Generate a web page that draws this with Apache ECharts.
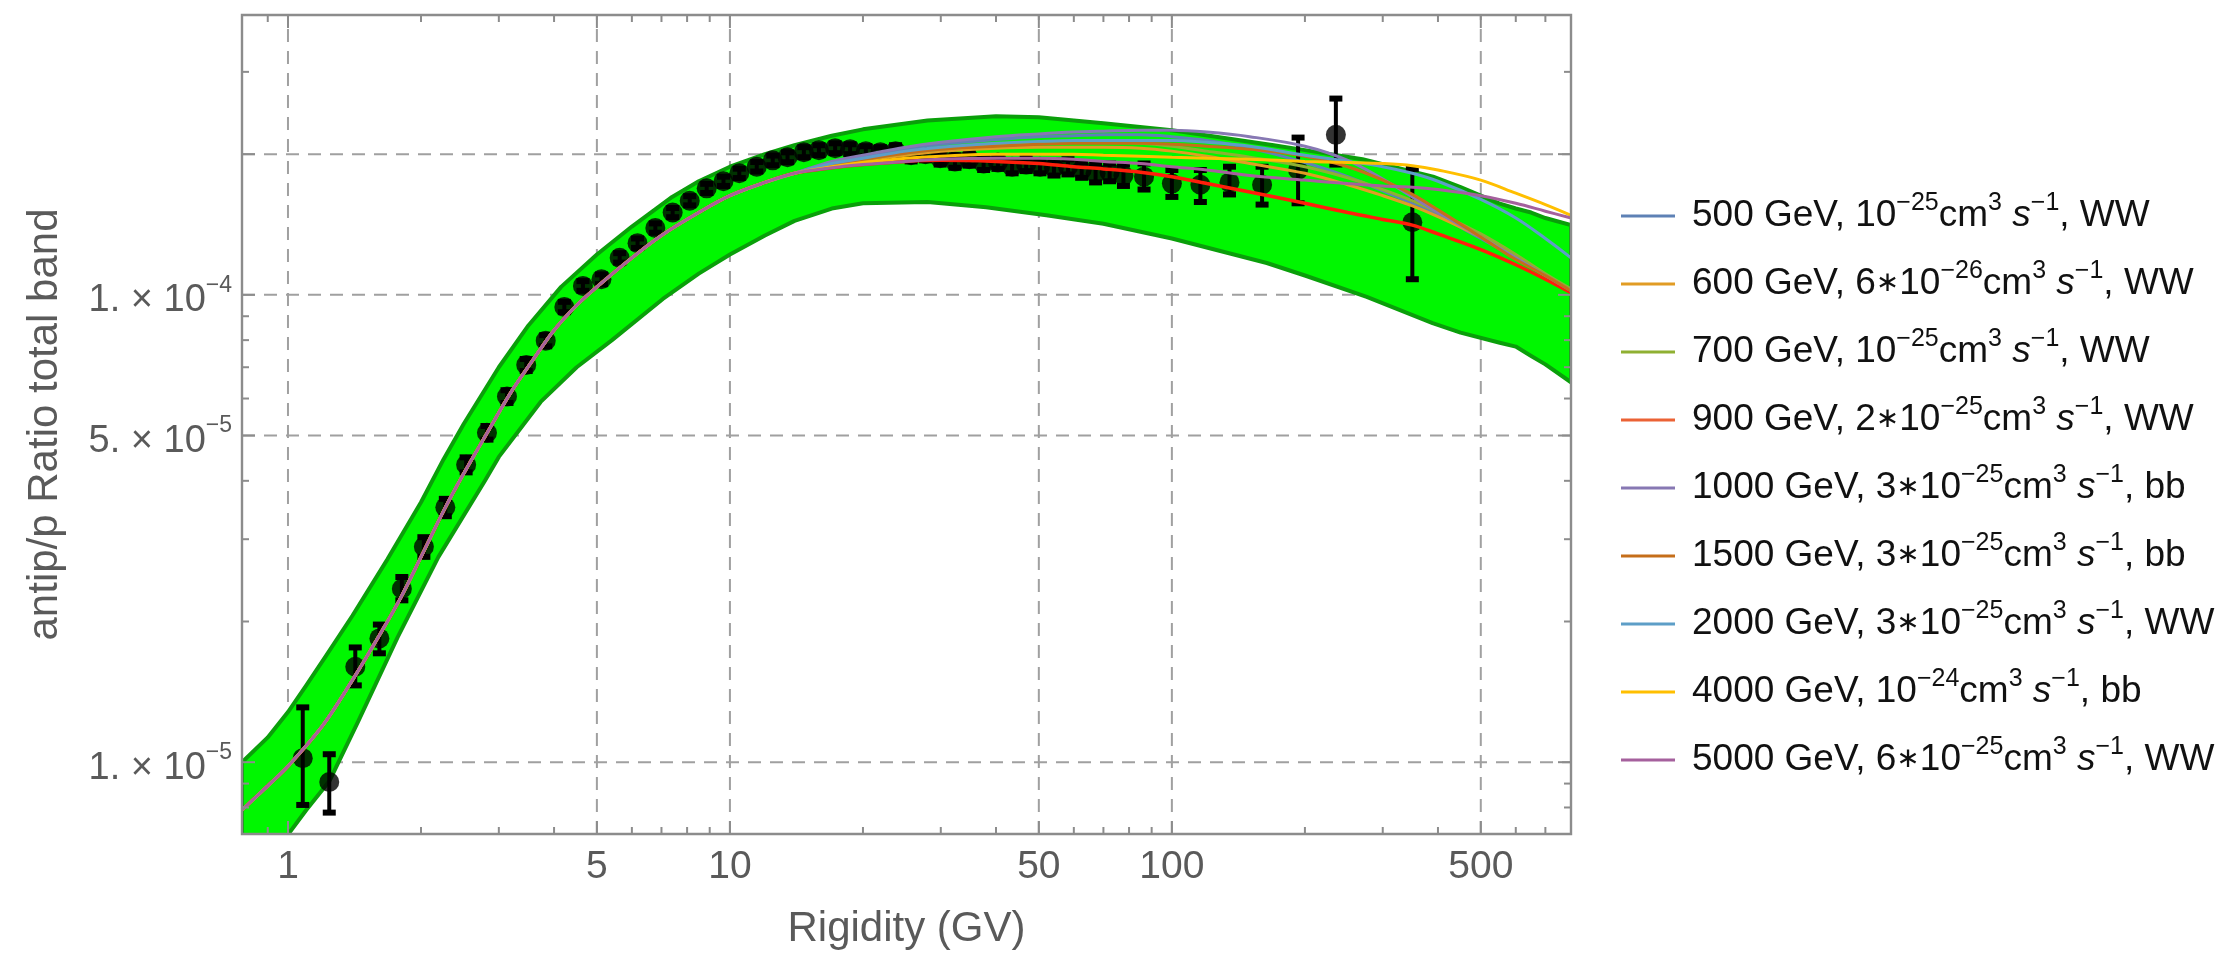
<!DOCTYPE html>
<html><head><meta charset="utf-8">
<script src="https://cdn.jsdelivr.net/npm/echarts@6/dist/echarts.min.js"></script>
<style>html,body{margin:0;padding:0;background:#fff}#c{width:2223px;height:955px}</style>
</head><body><div id="c"></div>
<script>
// ---------- axis ranges & ticks ----------
const xMin = 0.787, xMax = 800;
const yMin = 7.02e-6, yMax = 3.97e-4;
const xMajorTicks = [1, 5, 10, 50, 100, 500];
const xTickLabels = ['1', '5', '10', '50', '100', '500'];
const xMinorTicks = [0.9, 2, 3, 4, 6, 7, 8, 9, 20, 30, 40, 60, 70, 80, 90, 200, 300, 400, 600, 700];
const yMajorTicks = [1e-5, 5e-5, 1e-4, 2e-4];
const yLabelTicks = [1e-5, 5e-5, 1e-4];
const yTickLabels = ['{m|1. × 10}{s|−5}', '{m|5. × 10}{s|−5}', '{m|1. × 10}{s|−4}'];
const yMinorTicks = [8e-6, 9e-6, 2e-5, 3e-5, 4e-5, 6e-5, 7e-5, 8e-5, 9e-5, 3e-4];

// ---------- total uncertainty band ----------
const bandUpperX = [0.787, 0.9, 1.0, 1.1, 1.22, 1.4, 1.68, 2.0, 2.25, 2.5, 3.0, 3.5, 4.15, 5.0, 6.0, 7.4, 8.5, 10, 12, 14, 17, 20, 28, 40, 50, 70, 100, 170, 200, 270, 390, 450, 550, 600, 650, 700, 800];
const bandUpperY = [1.0e-5, 1.13e-5, 1.28e-5, 1.46e-5, 1.69e-5, 2.06e-5, 2.72e-5, 3.6e-5, 4.45e-5, 5.3e-5, 7.0e-5, 8.6e-5, 1.04e-4, 1.22e-4, 1.4e-4, 1.62e-4, 1.75e-4, 1.88e-4, 2.0e-4, 2.09e-4, 2.19e-4, 2.26e-4, 2.36e-4, 2.41e-4, 2.4e-4, 2.33e-4, 2.25e-4, 2.09e-4, 2.04e-4, 1.95e-4, 1.79e-4, 1.70e-4, 1.57e-4, 1.53e-4, 1.5e-4, 1.46e-4, 1.41e-4];
const bandLowerX = [0.787, 0.9, 1.0, 1.1, 1.24, 1.44, 1.77, 2.19, 2.79, 3.0, 3.73, 4.5, 5.41, 7.05, 8.5, 10, 12, 14, 17, 20, 28, 38, 52, 70, 100, 164, 200, 276, 389, 450, 552, 600, 650, 700, 800];
const bandLowerY = [5.5e-6, 6.25e-6, 7.0e-6, 7.9e-6, 9.1e-6, 1.22e-5, 1.85e-5, 2.75e-5, 4.0e-5, 4.5e-5, 5.9e-5, 7.0e-5, 8.0e-5, 9.8e-5, 1.11e-4, 1.22e-4, 1.34e-4, 1.44e-4, 1.53e-4, 1.57e-4, 1.58e-4, 1.54e-4, 1.48e-4, 1.42e-4, 1.32e-4, 1.17e-4, 1.1e-4, 9.9e-5, 8.7e-5, 8.3e-5, 7.9e-5, 7.75e-5, 7.4e-5, 7.1e-5, 6.5e-5];

// ---------- data points (antip/p measurements) ----------
const ptX = [1.08, 1.24, 1.42, 1.61, 1.81, 2.03, 2.27, 2.53, 2.82, 3.13, 3.46, 3.83, 4.22, 4.65, 5.12, 5.63, 6.18, 6.78, 7.42, 8.11, 8.86, 9.67, 10.5, 11.5, 12.5, 13.5, 14.7, 15.9, 17.3, 18.7, 20.3, 21.9, 23.7, 25.7, 27.7, 29.9, 32.3, 34.8, 37.5, 40.4, 43.5, 46.8, 50.3, 54.1, 58.2, 62.5, 67.2, 72.3, 77.7, 86.5, 100, 116, 135, 160, 193, 235, 350];
const ptY = [1.02e-5, 9.07e-6, 1.60e-5, 1.84e-5, 2.35e-5, 2.89e-5, 3.51e-5, 4.33e-5, 5.07e-5, 6.06e-5, 7.08e-5, 7.98e-5, 9.42e-5, 1.045e-4, 1.08e-4, 1.20e-4, 1.29e-4, 1.39e-4, 1.50e-4, 1.59e-4, 1.69e-4, 1.75e-4, 1.82e-4, 1.88e-4, 1.94e-4, 1.97e-4, 2.02e-4, 2.04e-4, 2.06e-4, 2.05e-4, 2.03e-4, 2.02e-4, 2.03e-4, 1.99e-4, 2.00e-4, 1.96e-4, 1.93e-4, 1.95e-4, 1.91e-4, 1.92e-4, 1.88e-4, 1.90e-4, 1.88e-4, 1.87e-4, 1.88e-4, 1.85e-4, 1.82e-4, 1.83e-4, 1.80e-4, 1.79e-4, 1.73e-4, 1.72e-4, 1.74e-4, 1.72e-4, 1.85e-4, 2.20e-4, 1.43e-4];
const ptLo = [8.1e-6, 7.8e-6, 1.46e-5, 1.71e-5, 2.22e-5, 2.75e-5, 3.36e-5, 4.17e-5, 4.90e-5, 5.87e-5, 6.87e-5, 7.76e-5, 9.18e-5, 1.02e-4, 1.054e-4, 1.172e-4, 1.26e-4, 1.358e-4, 1.466e-4, 1.554e-4, 1.652e-4, 1.71e-4, 1.778e-4, 1.836e-4, 1.894e-4, 1.922e-4, 1.97e-4, 1.99e-4, 2.01e-4, 2.00e-4, 1.98e-4, 1.97e-4, 1.97e-4, 1.93e-4, 1.94e-4, 1.90e-4, 1.87e-4, 1.89e-4, 1.85e-4, 1.86e-4, 1.82e-4, 1.84e-4, 1.82e-4, 1.80e-4, 1.81e-4, 1.78e-4, 1.74e-4, 1.75e-4, 1.71e-4, 1.68e-4, 1.62e-4, 1.58e-4, 1.64e-4, 1.56e-4, 1.57e-4, 1.90e-4, 1.08e-4];
const ptHi = [1.31e-5, 1.04e-5, 1.76e-5, 1.97e-5, 2.49e-5, 3.03e-5, 3.66e-5, 4.49e-5, 5.24e-5, 6.25e-5, 7.29e-5, 8.20e-5, 9.66e-5, 1.07e-4, 1.106e-4, 1.228e-4, 1.32e-4, 1.422e-4, 1.534e-4, 1.626e-4, 1.728e-4, 1.79e-4, 1.862e-4, 1.924e-4, 1.986e-4, 2.018e-4, 2.07e-4, 2.09e-4, 2.11e-4, 2.10e-4, 2.08e-4, 2.07e-4, 2.09e-4, 2.05e-4, 2.06e-4, 2.02e-4, 1.99e-4, 2.01e-4, 1.97e-4, 1.98e-4, 1.94e-4, 1.96e-4, 1.94e-4, 1.94e-4, 1.95e-4, 1.92e-4, 1.90e-4, 1.91e-4, 1.90e-4, 1.91e-4, 1.85e-4, 1.85e-4, 1.88e-4, 1.88e-4, 2.17e-4, 2.63e-4, 1.86e-4];

// ---------- model curves ----------
// common low-rigidity part (all models coincide there)
const modelLowX = [0.787, 0.9, 1.0, 1.2, 1.4, 1.6, 1.8, 2.0, 2.25, 2.5, 2.8, 3.2, 3.6, 4.0, 4.5, 5, 6, 7, 8.5, 10, 12, 14];
const modelLowY = [7.9e-6, 8.9e-6, 9.8e-6, 1.2e-5, 1.5e-5, 1.85e-5, 2.25e-5, 2.75e-5, 3.45e-5, 4.15e-5, 5.0e-5, 6.2e-5, 7.3e-5, 8.4e-5, 9.5e-5, 1.04e-4, 1.2e-4, 1.34e-4, 1.5e-4, 1.63e-4, 1.74e-4, 1.82e-4];
const modelHighX = [17, 20, 25, 30, 40, 50, 60, 70, 85, 100, 120, 150, 200, 250, 300, 350, 400, 500, 600, 700, 800];
const m500  = [1.92e-4, 1.98e-4, 2.05e-4, 2.10e-4, 2.15e-4, 2.18e-4, 2.19e-4, 2.20e-4, 2.20e-4, 2.18e-4, 2.14e-4, 2.06e-4, 1.92e-4, 1.79e-4, 1.67e-4, 1.57e-4, 1.48e-4, 1.32e-4, 1.20e-4, 1.10e-4, 1.02e-4];
const m600  = [1.89e-4, 1.94e-4, 1.99e-4, 2.03e-4, 2.06e-4, 2.07e-4, 2.07e-4, 2.07e-4, 2.06e-4, 2.03e-4, 1.98e-4, 1.91e-4, 1.82e-4, 1.72e-4, 1.63e-4, 1.55e-4, 1.47e-4, 1.33e-4, 1.21e-4, 1.10e-4, 1.02e-4];
const m700  = [1.90e-4, 1.95e-4, 2.01e-4, 2.05e-4, 2.09e-4, 2.11e-4, 2.12e-4, 2.12e-4, 2.11e-4, 2.08e-4, 2.03e-4, 1.97e-4, 1.88e-4, 1.78e-4, 1.68e-4, 1.59e-4, 1.50e-4, 1.35e-4, 1.22e-4, 1.11e-4, 1.03e-4];
const m900  = [1.87e-4, 1.90e-4, 1.93e-4, 1.94e-4, 1.93e-4, 1.91e-4, 1.88e-4, 1.86e-4, 1.83e-4, 1.79e-4, 1.73e-4, 1.66e-4, 1.57e-4, 1.50e-4, 1.45e-4, 1.41e-4, 1.35e-4, 1.25e-4, 1.16e-4, 1.08e-4, 1.01e-4];
const m1000 = [1.93e-4, 1.99e-4, 2.07e-4, 2.12e-4, 2.18e-4, 2.21e-4, 2.23e-4, 2.24e-4, 2.25e-4, 2.25e-4, 2.23e-4, 2.18e-4, 2.08e-4, 1.94e-4, 1.77e-4, 1.62e-4, 1.50e-4, 1.33e-4, 1.20e-4, 1.10e-4, 1.02e-4];
const m1500 = [1.90e-4, 1.95e-4, 2.01e-4, 2.05e-4, 2.08e-4, 2.10e-4, 2.11e-4, 2.11e-4, 2.11e-4, 2.10e-4, 2.08e-4, 2.05e-4, 1.98e-4, 1.88e-4, 1.76e-4, 1.64e-4, 1.52e-4, 1.33e-4, 1.19e-4, 1.10e-4, 1.02e-4];
const m2000 = [1.91e-4, 1.96e-4, 2.03e-4, 2.07e-4, 2.11e-4, 2.13e-4, 2.14e-4, 2.14e-4, 2.14e-4, 2.14e-4, 2.12e-4, 2.08e-4, 1.99e-4, 1.93e-4, 1.88e-4, 1.82e-4, 1.75e-4, 1.60e-4, 1.46e-4, 1.32e-4, 1.20e-4];
const m4000 = [1.88e-4, 1.92e-4, 1.96e-4, 1.98e-4, 2.00e-4, 2.00e-4, 2.00e-4, 1.99e-4, 1.98e-4, 1.97e-4, 1.96e-4, 1.95e-4, 1.93e-4, 1.92e-4, 1.91e-4, 1.89e-4, 1.85e-4, 1.76e-4, 1.65e-4, 1.56e-4, 1.48e-4];
const m5000 = [1.87e-4, 1.90e-4, 1.93e-4, 1.95e-4, 1.96e-4, 1.96e-4, 1.95e-4, 1.93e-4, 1.91e-4, 1.88e-4, 1.85e-4, 1.80e-4, 1.76e-4, 1.73e-4, 1.71e-4, 1.70e-4, 1.68e-4, 1.63e-4, 1.57e-4, 1.51e-4, 1.46e-4];

const seriesNames = ['500 GeV WW', '600 GeV WW', '700 GeV WW', '900 GeV WW', '1000 GeV bb', '1500 GeV bb', '2000 GeV WW', '4000 GeV bb', '5000 GeV WW'];
const legendLabels = [
  '500 GeV, 10{sup|−25}cm{sup|3} {it|s}{sup|−1}, WW',
  '600 GeV, 6{st|∗}10{sup|−26}cm{sup|3} {it|s}{sup|−1}, WW',
  '700 GeV, 10{sup|−25}cm{sup|3} {it|s}{sup|−1}, WW',
  '900 GeV, 2{st|∗}10{sup|−25}cm{sup|3} {it|s}{sup|−1}, WW',
  '1000 GeV, 3{st|∗}10{sup|−25}cm{sup|3} {it|s}{sup|−1}, bb',
  '1500 GeV, 3{st|∗}10{sup|−25}cm{sup|3} {it|s}{sup|−1}, bb',
  '2000 GeV, 3{st|∗}10{sup|−25}cm{sup|3} {it|s}{sup|−1}, WW',
  '4000 GeV, 10{sup|−24}cm{sup|3} {it|s}{sup|−1}, bb',
  '5000 GeV, 6{st|∗}10{sup|−25}cm{sup|3} {it|s}{sup|−1}, WW'
];
const modelHighY = [m500, m600, m700, m900, m1000, m1500, m2000, m4000, m5000];
const lineColors = ['#5E81B5', '#E19C24', '#8FB032', '#FF1E0A', '#8778B3', '#C56E1A', '#5D9EC7', '#FFBF00', '#A5609D'];
const legendColors = ['#5E81B5', '#E19C24', '#8FB032', '#EB6235', '#8778B3', '#C56E1A', '#5D9EC7', '#FFBF00', '#A5609D'];

// ---------- styling ----------
const FONT = '"Liberation Sans", Arial, sans-serif';
const frameColor = '#8c8c8c';
const labelColor = '#5a5a5a';

const chart = echarts.init(document.getElementById('c'), null, {renderer: 'canvas', width: 2223, height: 955});

function gridItem(params, api) {
  const ch = [];
  const st = {stroke: '#a0a0a0', lineWidth: 2, lineDash: [13, 9]};
  xMajorTicks.forEach(v => {
    const p1 = api.coord([v, yMin]), p2 = api.coord([v, yMax]);
    ch.push({type: 'line', shape: {x1: p1[0], y1: p1[1], x2: p2[0], y2: p2[1]}, style: st});
  });
  yMajorTicks.forEach(v => {
    const p1 = api.coord([xMin, v]), p2 = api.coord([xMax, v]);
    ch.push({type: 'line', shape: {x1: p1[0], y1: p1[1], x2: p2[0], y2: p2[1]}, style: st});
  });
  return {type: 'group', children: ch};
}

function bandItem(params, api) {
  const pts = [];
  for (let i = 0; i < bandUpperX.length; i++) pts.push(api.coord([bandUpperX[i], bandUpperY[i]]));
  for (let i = bandLowerX.length - 1; i >= 0; i--) pts.push(api.coord([bandLowerX[i], bandLowerY[i]]));
  return {type: 'polygon', shape: {points: pts}, style: {fill: '#00F700', stroke: '#0A9F0A', lineWidth: 4, lineJoin: 'round'}};
}

function errItem(params, api) {
  const x = api.value(0);
  const pl = api.coord([x, api.value(2)]);
  const ph = api.coord([x, api.value(3)]);
  return {type: 'group', children: [
    {type: 'line', shape: {x1: pl[0], y1: pl[1], x2: ph[0], y2: ph[1]}, style: {stroke: '#000', lineWidth: 4}},
    {type: 'rect', shape: {x: pl[0] - 6.5, y: pl[1] - 3, width: 13, height: 6}, style: {fill: '#000'}},
    {type: 'rect', shape: {x: ph[0] - 6.5, y: ph[1] - 3, width: 13, height: 6}, style: {fill: '#000'}}
  ]};
}

function decorItem(params, api) {
  const ch = [];
  const L = api.coord([xMin, yMin])[0], R = api.coord([xMax, yMin])[0];
  const B = api.coord([xMin, yMin])[1], T = api.coord([xMin, yMax])[1];
  const tk = (x1, y1, x2, y2) => ch.push({type: 'line', shape: {x1, y1, x2, y2}, style: {stroke: frameColor, lineWidth: 2}});
  xMajorTicks.forEach(v => { const x = api.coord([v, yMin])[0]; tk(x, B, x, B - 13); tk(x, T, x, T + 13); });
  xMinorTicks.forEach(v => { const x = api.coord([v, yMin])[0]; tk(x, B, x, B - 7); tk(x, T, x, T + 7); });
  yMajorTicks.forEach(v => { const y = api.coord([xMin, v])[1]; tk(L, y, L + 13, y); tk(R, y, R - 13, y); });
  yMinorTicks.forEach(v => { const y = api.coord([xMin, v])[1]; tk(L, y, L + 7, y); tk(R, y, R - 7, y); });
  ch.push({type: 'rect', shape: {x: L, y: T, width: R - L, height: B - T}, style: {fill: 'none', stroke: frameColor, lineWidth: 2.4}});
  xMajorTicks.forEach((v, i) => {
    const x = api.coord([v, yMin])[0];
    ch.push({type: 'text', x: x, y: B + 33, style: {text: xTickLabels[i], fill: labelColor, fontSize: 39, fontFamily: FONT, align: 'center', verticalAlign: 'middle'}});
  });
  yLabelTicks.forEach((v, i) => {
    const y = api.coord([xMin, v])[1];
    ch.push({type: 'text', x: L - 10, y: y + 2, style: {text: yTickLabels[i], fill: labelColor, align: 'right', verticalAlign: 'middle',
      rich: {m: {fontSize: 38, fontFamily: FONT, fill: labelColor, lineHeight: 46, verticalAlign: 'bottom'},
             s: {fontSize: 23, fontFamily: FONT, fill: labelColor, lineHeight: 28, verticalAlign: 'top'}}}});
  });
  return {type: 'group', children: ch};
}

const series = [];
series.push({type: 'custom', name: 'grid', silent: true, z: 1, renderItem: gridItem, data: [[1, 1e-4]], clip: true});
series.push({type: 'custom', name: 'total band', silent: true, z: 2, renderItem: bandItem, data: [[1, 1e-4]], clip: true});
series.push({type: 'custom', name: 'errors', silent: true, z: 3, renderItem: errItem, clip: true,
  encode: {x: 0, y: [1, 2, 3]}, data: ptX.map((x, i) => [x, ptY[i], ptLo[i], ptHi[i]])});
series.push({type: 'scatter', name: 'data', z: 4, symbol: 'circle', symbolSize: 20, itemStyle: {color: '#000'},
  data: ptX.map((x, i) => [x, ptY[i]])});
seriesNames.forEach((nm, k) => {
  const xs = modelLowX.concat(modelHighX);
  const ys = modelLowY.concat(modelHighY[k]);
  series.push({type: 'line', name: nm, z: 5, showSymbol: false, smooth: 0.35, color: lineColors[k],
    lineStyle: {width: k === 3 ? 3.5 : 3, color: lineColors[k]}, data: xs.map((x, i) => [x, ys[i]])});
});
series.push({type: 'custom', name: 'frame', silent: true, z: 10, renderItem: decorItem, data: [[1, 1e-4]], clip: false});

chart.setOption({
  animation: false,
  backgroundColor: '#fff',
  grid: {left: 242, top: 15, right: 652, bottom: 120, show: false},
  xAxis: {type: 'log', logBase: 10, min: xMin, max: xMax,
    axisLine: {show: false}, axisTick: {show: false}, axisLabel: {show: false}, splitLine: {show: false},
    name: 'Rigidity (GV)', nameLocation: 'middle', nameGap: 74,
    nameTextStyle: {fontSize: 42, color: labelColor, fontFamily: FONT}},
  yAxis: {type: 'log', logBase: 10, min: yMin, max: yMax,
    axisLine: {show: false}, axisTick: {show: false}, axisLabel: {show: false}, splitLine: {show: false},
    name: 'antip/p Ratio total band', nameLocation: 'middle', nameRotate: 90, nameGap: 176,
    nameTextStyle: {fontSize: 42, color: labelColor, fontFamily: FONT}},
  legend: {
    orient: 'vertical', left: 1616, top: 186, itemWidth: 54, itemHeight: 3, itemGap: 18, icon: 'rect',
    data: seriesNames.map((nm, k) => ({name: nm, itemStyle: {color: legendColors[k]}})),
    formatter: nm => legendLabels[seriesNames.indexOf(nm)],
    textStyle: {fontSize: 37, color: '#111', fontFamily: FONT, lineHeight: 50, padding: [0, 0, 0, 12],
      rich: {sup: {fontSize: 25, fontFamily: FONT, color: '#111', lineHeight: 30, verticalAlign: 'top'},
             st: {fontSize: 28, fontFamily: '"DejaVu Sans", sans-serif', color: '#111', lineHeight: 50},
             it: {fontSize: 37, fontFamily: FONT, color: '#111', fontStyle: 'italic', lineHeight: 50}}}
  },
  series: series
});
</script></body></html>
